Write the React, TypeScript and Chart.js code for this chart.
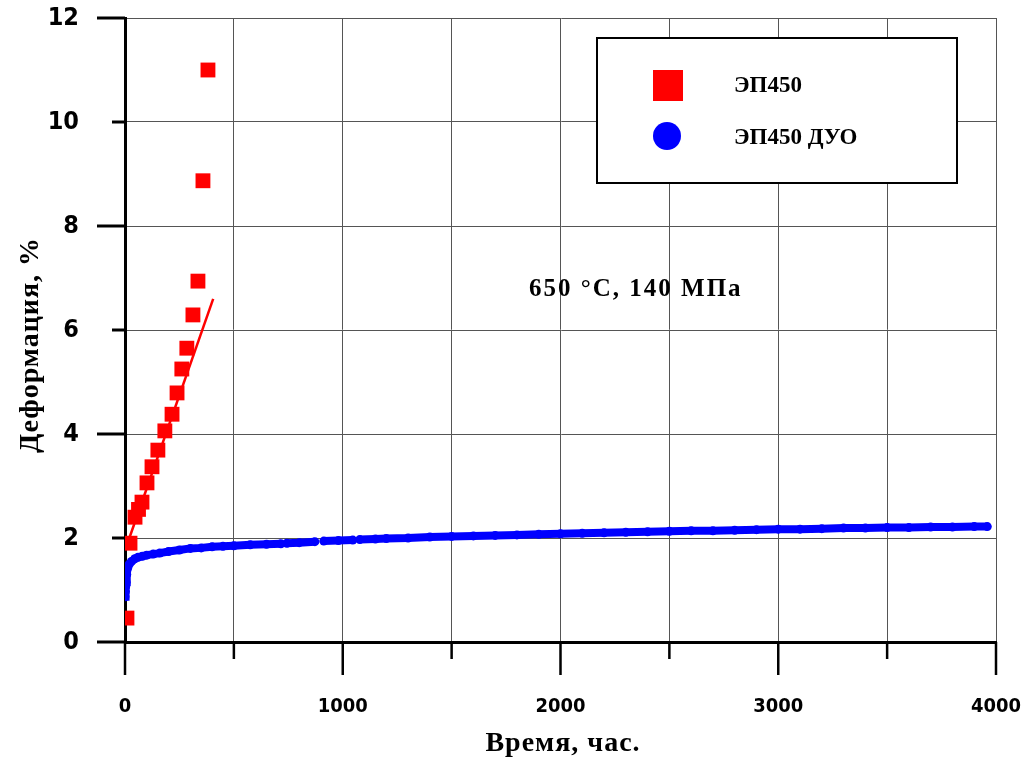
import React, { useEffect, useRef } from "react";
import { Chart, registerables } from "chart.js";

Chart.register(...registerables);

// ---- data ----
const redLabel = "ЭП450";
const blueLabel = "ЭП450 ДУО";
const xTitle = "Время, час.";
const yTitle = "Деформация, %";
const noteText = "650 °C, 140 МПа";

const redTime = [9, 23, 46, 62, 78, 101, 124, 151, 183, 216, 239, 261, 284, 312, 335, 358, 381];
const redStrain = [0.46, 1.9, 2.4, 2.55, 2.69, 3.06, 3.37, 3.69, 4.06, 4.38, 4.79, 5.25, 5.65, 6.29, 6.94, 8.87, 11.0];

const fitTime = [20, 405];
const fitStrain = [2.0, 6.6];

const blueTime = [
  0, 2, 3, 5, 8, 12, 20, 30, 45, 60, 80, 100, 130, 160, 200, 250, 300, 350, 400, 450, 500, 575, 650, 716,
  730,
  743, 800, 872,
  892,
  913, 980, 1046,
  1062,
  1078, 1150, 1200, 1300, 1400, 1500, 1600, 1700, 1800, 1900, 2000, 2100, 2200, 2300, 2400, 2500, 2600,
  2700, 2800, 2900, 3000, 3100, 3200, 3300, 3400, 3500, 3600, 3700, 3800, 3900, 3960,
];
const blueStrain: (number | null)[] = [
  0.87, 0.97, 1.06, 1.15, 1.3, 1.42, 1.5, 1.55, 1.6, 1.63, 1.65, 1.67, 1.69, 1.71, 1.74, 1.77, 1.8, 1.81, 1.83, 1.84, 1.85, 1.87, 1.88, 1.89,
  null,
  1.9, 1.91, 1.93,
  null,
  1.94, 1.95, 1.96,
  null,
  1.97, 1.98, 1.99, 2.0, 2.02, 2.03, 2.04, 2.05, 2.06, 2.07, 2.08, 2.09, 2.1, 2.11, 2.12, 2.13, 2.14,
  2.14, 2.15, 2.16, 2.17, 2.17, 2.18, 2.19, 2.19, 2.2, 2.2, 2.21, 2.21, 2.22, 2.22,
];

const xTicksMajor = 1000;
const yTicksMajor = 4;

const RED = "#ff0000";
const BLUE = "#0000ff";

const overlay = {
  id: "overlay",
  afterDraw(chart: any) {
    const ctx: CanvasRenderingContext2D = chart.ctx;
    const { left, bottom } = chart.chartArea;
    const xs = chart.scales.x;
    const ys = chart.scales.y;
    ctx.save();
    // axis ticks (long for major, short for minor)
    ctx.strokeStyle = "#000";
    ctx.lineWidth = 3;
    ys.ticks.forEach((t: any) => {
      const y = ys.getPixelForValue(t.value);
      const len = t.value % yTicksMajor === 0 ? 28 : 13;
      ctx.beginPath();
      ctx.moveTo(left - len, y);
      ctx.lineTo(left, y);
      ctx.stroke();
    });
    ctx.lineWidth = 2.5;
    xs.ticks.forEach((t: any) => {
      const x = xs.getPixelForValue(t.value);
      const len = t.value % xTicksMajor === 0 ? 33 : 17;
      ctx.beginPath();
      ctx.moveTo(x, bottom);
      ctx.lineTo(x, bottom + len);
      ctx.stroke();
    });

    // axis titles
    ctx.fillStyle = "#000";
    ctx.font = "bold 28px 'Liberation Serif', serif";
    ctx.textAlign = "center";
    ctx.textBaseline = "middle";
    (ctx as any).letterSpacing = "1px";
    ctx.fillText(xTitle, 563, 744);
    ctx.save();
    ctx.translate(31, 345);
    ctx.rotate(-Math.PI / 2);
    ctx.fillText(yTitle, 0, 0);
    ctx.restore();

    // annotation
    ctx.font = "bold 25px 'Liberation Serif', serif";
    ctx.textAlign = "left";
    (ctx as any).letterSpacing = "2px";
    ctx.fillText(noteText, 529, 290);
    (ctx as any).letterSpacing = "0px";

    // legend box
    const bx = 597, by = 38, bw = 360, bh = 145;
    ctx.fillStyle = "#fff";
    ctx.fillRect(bx, by, bw, bh);
    ctx.strokeStyle = "#000";
    ctx.lineWidth = 2;
    ctx.strokeRect(bx, by, bw, bh);
    const ds = chart.data.datasets;
    ctx.fillStyle = ds[0].backgroundColor;
    ctx.fillRect(653, 70, 30, 31);
    ctx.fillStyle = ds[2].backgroundColor;
    ctx.beginPath();
    ctx.arc(667, 136, 14, 0, Math.PI * 2);
    ctx.fill();
    ctx.fillStyle = "#000";
    ctx.font = "bold 23px 'Liberation Serif', serif";
    ctx.textAlign = "left";
    ctx.fillText(ds[0].label, 734, 86);
    ctx.fillText(ds[2].label, 734, 138);
    ctx.restore();
  },
};

export default function App() {
  const ref = useRef<HTMLCanvasElement>(null);
  useEffect(() => {
    document.body.style.margin = "0";
    const canvas = ref.current!;
    const tickFont = { family: "'Liberation Sans Narrow', 'DejaVu Sans Condensed', sans-serif", weight: "bold" as const };
    const chart = new Chart(canvas, {
      type: "scatter",
      data: {
        datasets: [
          {
            label: redLabel,
            data: redTime.map((t, i) => ({ x: t, y: redStrain[i] })),
            backgroundColor: RED,
            borderColor: RED,
            pointStyle: "rect",
            pointRadius: 10.5,
            borderWidth: 0,
            order: 1,
          },
          {
            label: "fit",
            data: fitTime.map((t, i) => ({ x: t, y: fitStrain[i] })),
            showLine: true,
            borderColor: RED,
            borderWidth: 2.5,
            pointRadius: 0,
            order: 2,
          },
          {
            label: blueLabel,
            data: blueTime.map((t, i) => ({ x: t, y: blueStrain[i] })),
            showLine: true,
            backgroundColor: BLUE,
            borderColor: BLUE,
            borderWidth: 8,
            pointRadius: 4.5,
            pointBorderWidth: 0,
            spanGaps: false,
            order: 3,
          },
        ],
      } as any,
      options: {
        responsive: false,
        animation: false,
        layout: { padding: { left: 0, top: 18, right: 33, bottom: 0 } },
        plugins: { legend: { display: false }, tooltip: { enabled: false } },
        scales: {
          x: {
            type: "linear",
            min: 0,
            max: 4000,
            ticks: {
              stepSize: 500,
              autoSkip: false,
              maxRotation: 0,
              padding: 0,
              color: "#000",
              font: { ...tickFont, size: 20 },
              callback: (v: any) => (Number(v) % xTicksMajor === 0 ? String(v) : ""),
            },
            grid: { color: "#555", lineWidth: 1, drawTicks: true, tickLength: 53, tickColor: "rgba(0,0,0,0)" },
            border: { display: true, color: "#000", width: 3 },
            afterFit: (s: any) => {
              s.height = 118;
            },
          },
          y: {
            type: "linear",
            min: 0,
            max: 12,
            ticks: {
              stepSize: 2,
              autoSkip: false,
              padding: 0,
              color: "#000",
              font: { ...tickFont, size: 25 },
            },
            grid: { color: "#555", lineWidth: 1, drawTicks: true, tickLength: 46, tickColor: "rgba(0,0,0,0)" },
            border: { display: true, color: "#000", width: 3 },
            afterFit: (s: any) => {
              s.width = 125;
            },
          },
        },
      } as any,
      plugins: [overlay],
    });
    return () => chart.destroy();
  }, []);
  return <canvas ref={ref} width={1029} height={760} style={{ display: "block" }} />;
}
